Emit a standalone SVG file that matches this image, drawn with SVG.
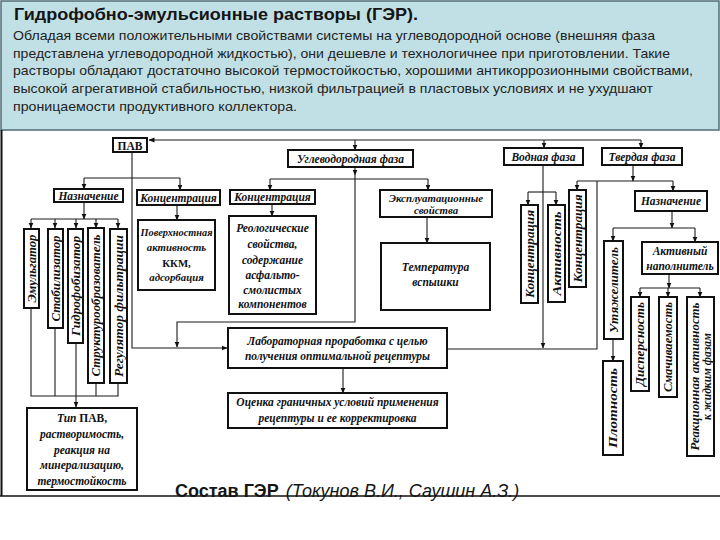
<svg xmlns="http://www.w3.org/2000/svg" width="720" height="540" viewBox="0 0 720 540">
<style>
.bx{fill:#fff;stroke:#111;stroke-width:2}
.c{fill:none;stroke:#1a1a1a;stroke-width:1.1}
.t{font-family:"Liberation Serif","DejaVu Serif",serif;font-style:italic;font-weight:bold;font-size:11.5px;fill:#111;text-anchor:middle}
.s{font-size:10.8px}
.v{font-size:11.5px}
.up{font-style:normal}
.hd{font-family:"Liberation Sans",Arial,sans-serif;fill:#151515}
.body{font-family:"Liberation Sans",Arial,sans-serif;font-size:13.5px;fill:#222}
</style>
<defs>
<marker id="ar" markerWidth="6" markerHeight="6" refX="5.5" refY="3" orient="auto" markerUnits="userSpaceOnUse">
<path d="M0,0.5 L6,3 L0,5.5 Z" fill="#111"/>
</marker>
</defs>
<rect width="720" height="540" fill="#fff"/>
<g id="header">
<rect x="1" y="1" width="718" height="129" fill="#c1e0e5" stroke="#4f6f75" stroke-width="1.5"/>
<text class="hd" x="14" y="20" font-size="16.5" font-weight="bold" textLength="404" lengthAdjust="spacingAndGlyphs">Гидрофобно-эмульсионные растворы (ГЭР).</text>
<text class="body" x="13" y="40" textLength="642" lengthAdjust="spacingAndGlyphs">Обладая всеми положительными свойствами системы на углеводородной основе (внешняя фаза</text>
<text class="body" x="13" y="58" textLength="657" lengthAdjust="spacingAndGlyphs">представлена углеводородной жидкостью), они дешевле и технологичнее при приготовлении. Такие</text>
<text class="body" x="13" y="75" textLength="680" lengthAdjust="spacingAndGlyphs">растворы обладают достаточно высокой термостойкостью, хорошими антикоррозионными свойствами,</text>
<text class="body" x="13" y="93" textLength="640" lengthAdjust="spacingAndGlyphs">высокой агрегативной стабильностью, низкой фильтрацией в пластовых условиях и не ухудшают</text>
<text class="body" x="13" y="111" textLength="284" lengthAdjust="spacingAndGlyphs">проницаемости продуктивного коллектора.</text>
</g>
<g id="frame">
<line x1="1.5" y1="130" x2="1.5" y2="496" stroke="#111" stroke-width="2"/>
<line x1="0" y1="496" x2="720" y2="496" stroke="#111" stroke-width="1.5"/>
</g>
<g id="connectors">
<path class="c" d="M641,140 H149" marker-end="url(#ar)"/>
<path class="c" d="M355,140 V150" marker-end="url(#ar)"/>
<path class="c" d="M544,140 V148" marker-end="url(#ar)"/>
<path class="c" d="M641,140 V148" marker-end="url(#ar)"/>
<path class="c" d="M132,152 V348 H227" marker-end="url(#ar)"/>
<path class="c" d="M84,178 H180"/>
<path class="c" d="M84,178 V189" marker-end="url(#ar)"/>
<path class="c" d="M180,178 V190" marker-end="url(#ar)"/>
<path class="c" d="M84,202 V219" marker-end="url(#ar)"/>
<path class="c" d="M31,219 H118"/>
<path class="c" d="M31,219 V228" marker-end="url(#ar)"/>
<path class="c" d="M55,219 V228" marker-end="url(#ar)"/>
<path class="c" d="M76,219 V228" marker-end="url(#ar)"/>
<path class="c" d="M96,219 V228" marker-end="url(#ar)"/>
<path class="c" d="M118,219 V228" marker-end="url(#ar)"/>
<path class="c" d="M31,308 V396 H118 V383"/>
<path class="c" d="M55,328 V396"/>
<path class="c" d="M96,383 V396"/>
<path class="c" d="M76,343 V407" marker-end="url(#ar)"/>
<path class="c" d="M177,205 V220" marker-end="url(#ar)"/>
<path class="c" d="M355,167 V175" marker-end="url(#ar)"/>
<path class="c" d="M355,175 V322 H177 V347" marker-end="url(#ar)"/>
<path class="c" d="M270,179 H428"/>
<path class="c" d="M270,179 V190" marker-end="url(#ar)"/>
<path class="c" d="M428,179 V190" marker-end="url(#ar)"/>
<path class="c" d="M272,204 V216" marker-end="url(#ar)"/>
<path class="c" d="M427,217 V243" marker-end="url(#ar)"/>
<path class="c" d="M543,165 V348" marker-end="url(#ar)"/>
<path class="c" d="M528,192 H556"/>
<path class="c" d="M528,192 V205" marker-end="url(#ar)"/>
<path class="c" d="M556,192 V205" marker-end="url(#ar)"/>
<path class="c" d="M633,165 V181" marker-end="url(#ar)"/>
<path class="c" d="M577,181 H673"/>
<path class="c" d="M577,181 V190" marker-end="url(#ar)"/>
<path class="c" d="M673,181 V191" marker-end="url(#ar)"/>
<path class="c" d="M597,181 V349 H447"/>
<path class="c" d="M343,368 V393" marker-end="url(#ar)"/>
<path class="c" d="M672,211 V228" marker-end="url(#ar)"/>
<path class="c" d="M613,228 H695"/>
<path class="c" d="M613,228 V241" marker-end="url(#ar)"/>
<path class="c" d="M695,228 V242" marker-end="url(#ar)"/>
<path class="c" d="M613,339 V361" marker-end="url(#ar)"/>
<path class="c" d="M669,274 V288" marker-end="url(#ar)"/>
<path class="c" d="M640,288 H700"/>
<path class="c" d="M640,288 V297" marker-end="url(#ar)"/>
<path class="c" d="M668,288 V297" marker-end="url(#ar)"/>
<path class="c" d="M700,288 V297" marker-end="url(#ar)"/>
</g>
<g id="pav"><rect class="bx" x="113" y="138" width="34" height="14"/><text class="t up" x="130" y="149.5">ПАВ</text></g>
<g id="pav-naznachenie"><rect class="bx" x="54" y="189" width="69" height="13"/><text class="t" x="88.5" y="199.5">Назначение</text></g>
<g id="pav-koncentraciya"><rect class="bx" x="137" y="190" width="83" height="15"/><text class="t" x="178.5" y="201.5">Концентрация</text></g>
<g id="emulgator"><rect class="bx" x="24" y="229" width="15" height="79"/><text class="t v" transform="translate(31.5,268.5) rotate(-90)" dy="4" textLength="68" lengthAdjust="spacingAndGlyphs">Эмульгатор</text></g>
<g id="stabilizator"><rect class="bx" x="48" y="229" width="15" height="99"/><text class="t v" transform="translate(55.5,278.5) rotate(-90)" dy="4" textLength="86" lengthAdjust="spacingAndGlyphs">Стабилизатор</text></g>
<g id="gidrofobizator"><rect class="bx" x="68" y="229" width="15" height="114"/><text class="t v" transform="translate(75.5,286) rotate(-90)" dy="4" textLength="100" lengthAdjust="spacingAndGlyphs">Гидрофобизатор</text></g>
<g id="strukturoobrazovatel"><rect class="bx" x="88" y="228" width="16" height="155"/><text class="t v" transform="translate(96,305.5) rotate(-90)" dy="4" textLength="142" lengthAdjust="spacingAndGlyphs">Структурообразователь</text></g>
<g id="regulyator"><rect class="bx" x="110" y="229" width="17" height="154"/><text class="t v" transform="translate(118.5,306) rotate(-90)" dy="4" textLength="142" lengthAdjust="spacingAndGlyphs">Регулятор фильтрации</text></g>
<g id="tip-pav"><rect class="bx" x="27" y="408" width="110" height="82"/>
<text class="t" x="82" y="422">Тип <tspan class="up">ПАВ,</tspan></text>
<text class="t" x="82" y="438">растворимость,</text>
<text class="t" x="82" y="454">реакция на</text>
<text class="t" x="82" y="469">минерализацию,</text>
<text class="t" x="82" y="485">термостойкость</text></g>
<g id="poverhnostnaya"><rect class="bx" x="138" y="220" width="77" height="70"/>
<text class="t s" x="176.5" y="236" textLength="72" lengthAdjust="spacingAndGlyphs">Поверхностная</text>
<text class="t s" x="176.5" y="251">активность</text>
<text class="t s up" x="176.5" y="267">ККМ,</text>
<text class="t s" x="176.5" y="281">адсорбация</text></g>
<g id="uv-faza"><rect class="bx" x="288" y="150" width="125" height="17"/><text class="t" x="350.5" y="162.5">Углеводородная фаза</text></g>
<g id="uv-koncentraciya"><rect class="bx" x="230" y="190" width="85" height="14"/><text class="t" x="272.5" y="201">Концентрация</text></g>
<g id="reologicheskie"><rect class="bx" x="229" y="216" width="87" height="98"/>
<text class="t" x="272.5" y="232">Реологические</text>
<text class="t" x="272.5" y="248">свойства,</text>
<text class="t" x="272.5" y="264">содержание</text>
<text class="t" x="272.5" y="279">асфальто-</text>
<text class="t" x="272.5" y="294">смолистых</text>
<text class="t" x="272.5" y="308">компонентов</text></g>
<g id="ekspluatacionnye"><rect class="bx" x="380" y="190" width="112" height="27"/>
<text class="t s" x="436" y="201.5">Эксплуатационные</text>
<text class="t s" x="436" y="213.5">свойства</text></g>
<g id="temperatura"><rect class="bx" x="381" y="243" width="109" height="67"/>
<text class="t" x="435.5" y="271">Температура</text>
<text class="t" x="435.5" y="286">вспышки</text></g>
<g id="laboratornaya"><rect class="bx" x="228" y="328" width="219" height="40"/>
<text class="t" x="337.5" y="345">Лабораторная проработка с целью</text>
<text class="t" x="337.5" y="360">получения оптимальной рецептуры</text></g>
<g id="ocenka"><rect class="bx" x="228" y="393" width="219" height="35"/>
<text class="t" x="337.5" y="406">Оценка граничных условий применения</text>
<text class="t" x="337.5" y="422">рецептуры и ее корректировка</text></g>
<g id="vodnaya-faza"><rect class="bx" x="504" y="148" width="79" height="17"/><text class="t" x="543.5" y="160.5">Водная фаза</text></g>
<g id="v-koncentraciya"><rect class="bx" x="521" y="205" width="17" height="98"/><text class="t v" transform="translate(529.5,254) rotate(-90)" dy="4" textLength="88" lengthAdjust="spacingAndGlyphs">Концентрация</text></g>
<g id="aktivnost"><rect class="bx" x="548" y="205" width="17" height="97"/><text class="t v" transform="translate(556.5,253.5) rotate(-90)" dy="4" textLength="84" lengthAdjust="spacingAndGlyphs">Активность</text></g>
<g id="tverdaya-faza"><rect class="bx" x="602" y="148" width="80" height="17"/><text class="t" x="642" y="160.5">Твердая фаза</text></g>
<g id="t-koncentraciya"><rect class="bx" x="569" y="190" width="17" height="97"/><text class="t v" transform="translate(577.5,238.5) rotate(-90)" dy="4" textLength="88" lengthAdjust="spacingAndGlyphs">Концентрация</text></g>
<g id="t-naznachenie"><rect class="bx" x="635" y="191" width="72" height="20"/><text class="t" x="671" y="205">Назначение</text></g>
<g id="utyazhelitel"><rect class="bx" x="604" y="241" width="19" height="98"/><text class="t v" transform="translate(613.5,290) rotate(-90)" dy="4" textLength="86" lengthAdjust="spacingAndGlyphs">Утяжелитель</text></g>
<g id="plotnost"><rect class="bx" x="603" y="361" width="20" height="94"/><text class="t v" transform="translate(613,408) rotate(-90)" dy="4" textLength="80" lengthAdjust="spacingAndGlyphs">Плотность</text></g>
<g id="aktivnyi-napolnitel"><rect class="bx" x="642" y="242" width="76" height="32"/>
<text class="t" x="680" y="255">Активный</text>
<text class="t" x="680" y="270">наполнитель</text></g>
<g id="dispersnost"><rect class="bx" x="631" y="297" width="18" height="94"/><text class="t v" transform="translate(640,344) rotate(-90)" dy="4" textLength="84" lengthAdjust="spacingAndGlyphs">Дисперсность</text></g>
<g id="smachivaemost"><rect class="bx" x="659" y="297" width="18" height="100"/><text class="t v" transform="translate(668,347) rotate(-90)" dy="4" textLength="90" lengthAdjust="spacingAndGlyphs">Смачиваемость</text></g>
<g id="reakcionnaya"><rect class="bx" x="687" y="297" width="27" height="159"/>
<text class="t" transform="translate(700.5,376.5) rotate(-90)" dy="-2" textLength="148" lengthAdjust="spacingAndGlyphs">Реакционная активность</text>
<text class="t" transform="translate(700.5,376.5) rotate(-90)" dy="10">к жидким фазам</text></g>
<g id="caption">
<text class="hd" x="175" y="497" font-size="18"><tspan font-weight="bold">Состав ГЭР</tspan><tspan font-style="italic" dx="7">(Токунов В.И., Саушин А.З.)</tspan></text>
</g>
</svg>
